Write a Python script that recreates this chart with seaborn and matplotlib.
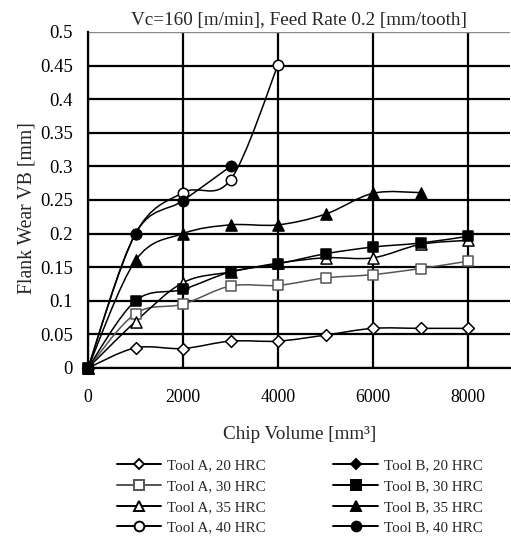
import numpy as np
import pandas as pd
import seaborn as sns
import matplotlib
matplotlib.use("Agg")
import matplotlib.pyplot as plt
from matplotlib.path import Path
from matplotlib.patches import PathPatch
from matplotlib.lines import Line2D

# ---- data ----
labels = ["Tool A, 20 HRC", "Tool A, 30 HRC", "Tool A, 35 HRC", "Tool A, 40 HRC",
          "Tool B, 20 HRC", "Tool B, 30 HRC", "Tool B, 35 HRC", "Tool B, 40 HRC"]
x_a20 = [0, 1000, 2000, 3000, 4000, 5000, 6000, 7000, 8000]
y_a20 = [0, 0.030, 0.029, 0.040, 0.040, 0.049, 0.059, 0.059, 0.059]
x_a30 = [0, 1000, 2000, 3000, 4000, 5000, 6000, 7000, 8000]
y_a30 = [0, 0.081, 0.095, 0.122, 0.123, 0.134, 0.139, 0.148, 0.159]
x_a35 = [0, 1000, 2000, 3000, 4000, 5000, 6000, 7000, 8000]
y_a35 = [0, 0.069, 0.127, 0.143, 0.156, 0.164, 0.164, 0.184, 0.190]
x_a40 = [0, 1000, 2000, 3000, 4000]
y_a40 = [0, 0.200, 0.261, 0.280, 0.451]
x_b20 = [0]
y_b20 = [0]
x_b30 = [0, 1000, 2000, 3000, 4000, 5000, 6000, 7000, 8000]
y_b30 = [0, 0.100, 0.117, 0.143, 0.155, 0.170, 0.180, 0.186, 0.196]
x_b35 = [0, 1000, 2000, 3000, 4000, 5000, 6000, 7000]
y_b35 = [0, 0.160, 0.200, 0.213, 0.213, 0.229, 0.260, 0.261]
x_b40 = [0, 1000, 2000, 3000]
y_b40 = [0, 0.200, 0.249, 0.300]

xs = [x_a20, x_a30, x_a35, x_a40, x_b20, x_b30, x_b35, x_b40]
ys = [y_a20, y_a30, y_a35, y_a40, y_b20, y_b30, y_b35, y_b40]
x_ticks = [0, 2000, 4000, 6000, 8000]
y_ticks = [0, 0.05, 0.1, 0.15, 0.2, 0.25, 0.3, 0.35, 0.4, 0.45, 0.5]
y_ticklabels = ["0", "0.05", "0.1", "0.15", "0.2", "0.25", "0.3", "0.35", "0.4", "0.45", "0.5"]

# ---- styles ----
markers = ["D", "s", "^", "o", "D", "s", "^", "o"]
faces = ["white", "white", "white", "white", "black", "black", "black", "black"]
edges = ["black", "#555555", "black", "black", "black", "black", "black", "black"]
lcols = ["black", "#555555", "black", "black", "black", "black", "black", "black"]
msizes = [6, 7, 8, 7.5, 6, 7.5, 8, 7.5]
leg_msizes = [5.5, 6.5, 7.5, 7, 5.5, 7, 7.5, 7]

sns.set_style("white")
plt.rcParams["font.family"] = ["Liberation Serif", "DejaVu Serif"]

fig = plt.figure(figsize=(5.11, 5.45), dpi=100)
ax = fig.add_axes([88 / 511, 1 - 368 / 545, (510 - 88) / 511, (368 - 32) / 545])


def smooth_path(x, y):
    pts = np.column_stack([x, y]).astype(float)
    n = len(pts)
    verts = [pts[0]]
    codes = [Path.MOVETO]
    for i in range(n - 1):
        p0 = pts[i - 1] if i > 0 else pts[i]
        p1 = pts[i]
        p2 = pts[i + 1]
        p3 = pts[i + 2] if i + 2 < n else pts[i + 1]
        c1 = p1 + (p2 - p0) / 6.0
        c2 = p2 - (p3 - p1) / 6.0
        verts += [c1, c2, p2]
        codes += [Path.CURVE4] * 3
    return Path(verts, codes)


order = [1, 0, 2, 3, 4, 6, 7, 5]
for i in order:
    if len(xs[i]) > 1:
        patch = PathPatch(smooth_path(xs[i], ys[i]), facecolor="none",
                          edgecolor=lcols[i], lw=1.1, zorder=2, clip_on=False)
        ax.add_patch(patch)
    df = pd.DataFrame({"x": xs[i], "y": ys[i]})
    sns.scatterplot(data=df, x="x", y="y", marker=markers[i], s=msizes[i] ** 2,
                    color=faces[i], edgecolor=edges[i], linewidth=1.1,
                    ax=ax, zorder=3, clip_on=False, legend=False)

ax.set_xlim(0, 8884)
ax.set_ylim(0, 0.5)
ax.set_xticks(x_ticks)
ax.set_yticks(y_ticks)
ax.set_yticklabels(y_ticklabels)
ax.grid(True, color="black", lw=1.6)
ax.get_ygridlines()[-1].set_color("#888888")
ax.get_ygridlines()[-1].set_linewidth(1.0)
ax.set_axisbelow(True)
for s in ["top", "right"]:
    ax.spines[s].set_visible(False)
for s in ["left", "bottom"]:
    ax.spines[s].set_color("black")
    ax.spines[s].set_linewidth(1.6)
ax.tick_params(axis="both", direction="out", length=5, width=1.6, color="black",
               labelcolor="black")
ax.tick_params(axis="x", pad=10, labelsize=12.8)
ax.tick_params(axis="y", pad=6, labelsize=13.5)
ax.set_xlabel("Chip Volume [mm³]", fontsize=13.8)
ax.set_ylabel("Flank Wear VB [mm]", fontsize=14.2)
ax.xaxis.set_label_coords(0.502, -0.172)
ax.yaxis.set_label_coords(-0.123, 0.476)
ax.set_title("Vc=160 [m/min], Feed Rate 0.2 [mm/tooth]", fontsize=13.8, pad=5)

handles = []
for i in range(8):
    handles.append(Line2D([], [], color=lcols[i], lw=1.4, marker=markers[i],
                          markersize=leg_msizes[i], markerfacecolor=faces[i],
                          markeredgecolor=edges[i], markeredgewidth=1.4))
fig.legend(handles, labels, ncol=2, loc="upper left", bbox_to_anchor=(111 / 511, 1 - 453 / 545),
           frameon=False, fontsize=10.8, handlelength=2.95, handletextpad=0.4,
           columnspacing=4.5, labelspacing=0.48, borderaxespad=0)

fig.savefig("out.png", dpi=100)
